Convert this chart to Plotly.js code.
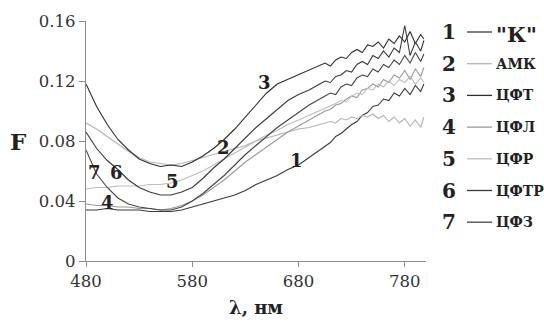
<!DOCTYPE html>
<html>
<head>
<meta charset="utf-8">
<script src="https://cdn.plot.ly/plotly-3.0.1.min.js"></script>
<style>html,body{margin:0;padding:0;background:#fff;}#chart{width:544px;height:324px;}</style>
</head>
<body>
<div id="chart"></div>
<script>
// Wavelength, nm
const wavelength = [480,490,500,510,520,530,540,550,560,570,580,590,600,610,620,630,640,650,660,670,680,690,700,
  705,710,715,720,725,730,735,740,745,750,755,760,765,770,775,780,785,790,795,798];

// Series (F)
const s1_K = [.034,.034,.035,.034,.034,.034,.033,.033,.033,.034,.036,.038,.040,.042,.044,.047,.051,.054,.057,.061,.064,.069,.074,
  .077,.079,.083,.085,.088,.091,.093,.097,.099,.103,.104,.108,.107,.112,.110,.115,.111,.117,.113,.118];
const s2_AMK = [.092,.088,.083,.078,.073,.069,.066,.065,.064,.065,.067,.069,.071,.073,.075,.077,.080,.082,.084,.086,.088,.089,.091,
  .092,.093,.092,.095,.094,.096,.095,.097,.096,.098,.095,.097,.093,.096,.092,.095,.090,.094,.089,.096];
const s3_CFT = [.118,.103,.091,.081,.074,.068,.065,.063,.064,.063,.066,.070,.075,.081,.088,.096,.104,.112,.118,.121,.124,.127,.130,
  .132,.130,.134,.136,.135,.139,.141,.139,.144,.143,.146,.142,.148,.145,.150,.146,.153,.145,.151,.148];
const s4_CFL = [.038,.037,.037,.036,.036,.035,.035,.034,.035,.037,.040,.044,.049,.054,.060,.066,.071,.076,.081,.086,.090,.094,.098,
  .100,.101,.104,.105,.108,.110,.109,.114,.115,.118,.116,.121,.119,.124,.122,.127,.121,.128,.123,.129];
const s5_CFR = [.048,.049,.049,.050,.050,.050,.051,.051,.052,.054,.057,.060,.064,.068,.072,.076,.080,.084,.087,.091,.094,.097,.100,
  .102,.103,.105,.107,.106,.110,.112,.111,.115,.114,.118,.116,.120,.117,.121,.119,.123,.118,.122,.119];
const s6_CFTR = [.086,.075,.067,.061,.054,.049,.046,.044,.044,.046,.049,.055,.062,.068,.075,.082,.089,.095,.101,.107,.111,.114,.118,
  .120,.119,.123,.124,.127,.126,.131,.133,.131,.137,.135,.140,.136,.142,.139,.157,.137,.146,.140,.147];
const s7_CFZ = [.074,.058,.049,.042,.038,.036,.035,.034,.034,.036,.040,.045,.051,.057,.064,.071,.077,.083,.089,.094,.099,.104,.108,
  .110,.112,.111,.116,.118,.117,.122,.124,.123,.128,.126,.131,.129,.134,.131,.137,.132,.139,.133,.138];

const seriesNumbers = ['1','2','3','4','5','6','7'];
const seriesNames = ['"К"','АМК','ЦФТ','ЦФЛ','ЦФР','ЦФТР','ЦФЗ'];
const seriesValues = [s1_K, s2_AMK, s3_CFT, s4_CFL, s5_CFR, s6_CFTR, s7_CFZ];
const seriesColors = ['#3a3a3a','#b4b4b4','#2e2e2e','#9a9a9a','#bdbdbd','#3a3a3a','#454545'];

// In-plot curve labels (number, wavelength, F)
const curveLabelNum = ['1','2','3','4','5','6','7'];
const curveLabelX = [678,609,648,500,561,509,488];
const curveLabelY = [0.067,0.076,0.119,0.039,0.053,0.059,0.059];

const xTicks = [480,580,680,780];
const yTicks = [0,0.04,0.08,0.12,0.16];
const yTickText = ['0','0.04','0.08','0.12','0.16'];

const FONT = 'DejaVu Serif';

const traces = seriesValues.map((v,i)=>({
  x: wavelength, y: v, type:'scatter', mode:'lines', name: seriesNames[i],
  line:{color: seriesColors[i], width:1.1}, showlegend:false, hoverinfo:'skip'
}));

const annotations = [];
curveLabelNum.forEach((t,i)=>annotations.push({
  x: curveLabelX[i], y: curveLabelY[i], xref:'x', yref:'y', text:'<b>'+t+'</b>', showarrow:false,
  font:{family:FONT, size:18, color:'#222'}
}));

// custom legend on the right
const plotL = 86, plotR = 426, plotT = 21, plotB = 261;
const px2x = p => (p - plotL)/(plotR - plotL);
const py2y = p => (plotB - p)/(plotB - plotT);
const shapes = [];
seriesNames.forEach((name,i)=>{
  const py = 32 + i*31.7;
  annotations.push({x:px2x(449), y:py2y(py), xref:'paper', yref:'paper', text:'<b>'+seriesNumbers[i]+'</b>',
    showarrow:false, xanchor:'center', yanchor:'middle', font:{family:FONT, size:20, color:'#222'}});
  annotations.push({x:px2x(494), y:py2y(py + (i===0?2:0)), xref:'paper', yref:'paper', text:'<b>'+name+'</b>',
    showarrow:false, xanchor:'left', yanchor:'middle', font:{family:FONT, size:(i===0?21:14), color:'#222'}});
  shapes.push({type:'line', xref:'paper', yref:'paper', x0:px2x(467), x1:px2x(492), y0:py2y(py), y1:py2y(py),
    line:{color:seriesColors[i], width:1.3}});
});
// y-axis title "F" (horizontal, as in the reference)
annotations.push({x:px2x(18), y:py2y(141), xref:'paper', yref:'paper', text:'<b>F</b>', showarrow:false,
  xanchor:'center', yanchor:'middle', font:{family:FONT, size:23, color:'#222'}});

const layout = {
  width:544, height:324,
  margin:{l:plotL, r:544-plotR, t:plotT, b:324-plotB},
  paper_bgcolor:'#fff', plot_bgcolor:'#fff',
  showlegend:false,
  font:{family:FONT, color:'#333'},
  xaxis:{range:[480,800], tickvals:xTicks, ticktext:xTicks.map(String), showgrid:false, zeroline:false,
    showline:true, linecolor:'#8c8c8c', linewidth:1.3, ticks:'outside', ticklen:5, tickcolor:'#8c8c8c',
    tickfont:{family:FONT, size:16.5, color:'#333'},
    title:{text:'<b>λ, нм</b>', font:{family:FONT, size:18, color:'#222'}, standoff:11}},
  yaxis:{range:[0,0.16], tickvals:yTicks, ticktext:yTickText, showgrid:false, zeroline:false,
    showline:true, linecolor:'#8c8c8c', linewidth:1.3, ticks:'outside', ticklen:6, tickcolor:'#8c8c8c',
    tickfont:{family:FONT, size:16.5, color:'#333'}},
  annotations: annotations,
  shapes: shapes
};

Plotly.newPlot('chart', traces, layout, {staticPlot:true, displayModeBar:false});
</script>
</body>
</html>
